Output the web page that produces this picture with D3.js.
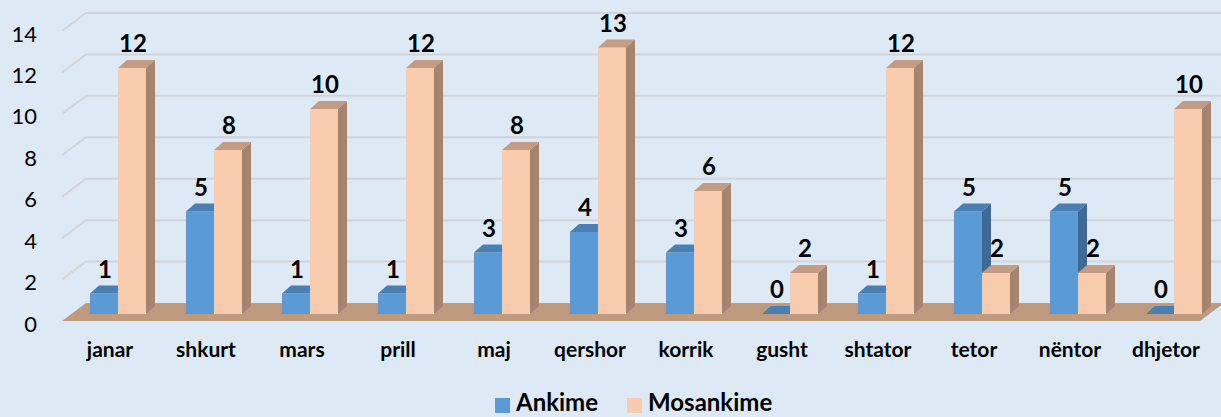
<!DOCTYPE html>
<html>
<head>
<meta charset="utf-8">
<script src="https://cdn.jsdelivr.net/npm/d3@7"></script>
<style>
  html, body { margin: 0; padding: 0; background: #dde9f5; }
  svg { display: block; }
</style>
</head>
<body>
<script>
// Daten
const months = ["janar", "shkurt", "mars", "prill", "maj", "qershor", "korrik", "gusht", "shtator", "tetor", "nëntor", "dhjetor"];
const ankime = [1, 5, 1, 1, 3, 4, 3, 0, 1, 5, 5, 0];
const mosankime = [12, 8, 10, 12, 8, 13, 6, 2, 12, 2, 2, 10];
const seriesNames = ["Ankime", "Mosankime"];
const yTicks = [0, 2, 4, 6, 8, 10, 12, 14];

const width = 1221;
const height = 417;
const font = "Lato, 'Open Sans', sans-serif";

// Tiefe der 3D-Ansicht
const wallDx = 24, wallDy = -18;   // Boden / Rückwand
const barDx = 9, barDy = -8;       // Säulen

const svg = d3.select("body").append("svg")
    .attr("width", width)
    .attr("height", height)
    .attr("viewBox", [0, 0, width, height]);

svg.append("rect").attr("width", width).attr("height", height).attr("fill", "#dde9f5");

// Skalen
const x = d3.scaleBand().domain(months).range([62, 1214]);
const yWall = d3.scaleLinear().domain([0, 14]).range([303, 13]);   // Rückwand
const yBar = d3.scaleLinear().domain([0, 14]).range([314, 27]);    // Säulen

// Gitterlinien (Rückwand + Schräge links)
const grid = svg.append("g")
    .attr("stroke", "#d2d4d7")
    .attr("stroke-width", 2)
    .attr("fill", "none");

grid.selectAll("path")
    .data(yTicks.filter(d => d > 0))
    .join("path")
    .attr("d", d => `M${x.range()[0]},${yWall(d) - wallDy} L${x.range()[0] + wallDx},${yWall(d)} L${width},${yWall(d)}`);

// Y-Achsenbeschriftung
svg.append("g")
    .selectAll("text")
    .data(yTicks)
    .join("text")
    .attr("x", 37)
    .attr("y", d => yWall(d) - wallDy + 2)
    .attr("text-anchor", "end")
    .attr("dominant-baseline", "central")
    .attr("font-family", font)
    .attr("font-size", 22)
    .attr("fill", "#000")
    .text(d => d);

// Boden
const fl = x.range()[0], fr = 1200, fy = yWall(0) - wallDy;
svg.append("path")
    .attr("d", `M${fl},${fy} L${fr},${fy} L${fr + wallDx},${yWall(0)} L${fl + wallDx},${yWall(0)} Z`)
    .attr("fill", "#c09a7f");

// Säulen
const rows = months.map((m, i) => ({ month: m, values: [ankime[i], mosankime[i]] }));
const styles = [
  { front: "#5b9bd5", top: "#4a7fb3", side: "#3e6a95" },
  { front: "#f8cbad", top: "#c29c83", side: "#a7846e" }
];
const barW = 28, barOffset = 28;

function drawBar(g, x0, v, s) {
  const x1 = x0 + barW;
  const yt = yBar(v), yb = yBar(0);
  // Seitenfläche
  g.append("path")
      .attr("d", `M${x1},${yb} L${x1 + barDx},${yb + barDy} L${x1 + barDx},${yt + barDy} L${x1},${yt} Z`)
      .attr("fill", s.side);
  // Vorderseite
  g.append("rect")
      .attr("x", x0).attr("y", yt)
      .attr("width", barW).attr("height", yb - yt)
      .attr("fill", s.front);
  // Oberseite
  g.append("path")
      .attr("d", `M${x0},${yt} L${x1},${yt} L${x1 + barDx},${yt + barDy} L${x0 + barDx},${yt + barDy} Z`)
      .attr("fill", s.top);
}

const bars = svg.append("g");
rows.forEach(r => {
  r.values.forEach((v, k) => {
    drawBar(bars, x(r.month) + barOffset + k * barW, v, styles[k]);
  });
});

// Datenbeschriftungen
const labels = svg.append("g")
    .attr("font-family", font)
    .attr("font-weight", "bold")
    .attr("font-size", 24)
    .attr("text-anchor", "middle")
    .attr("fill", "#000");

rows.forEach(r => {
  r.values.forEach((v, k) => {
    labels.append("text")
        .attr("x", x(r.month) + barOffset + k * barW + barW / 2 + 1)
        .attr("y", yBar(v) - 16)
        .text(v);
  });
});

// Kategorien
svg.append("g")
    .selectAll("text")
    .data(months)
    .join("text")
    .attr("x", d => x(d) + 48)
    .attr("y", 357)
    .attr("text-anchor", "middle")
    .attr("font-family", font)
    .attr("font-weight", "bold")
    .attr("font-size", 21)
    .attr("fill", "#000")
    .text(d => d);

// Legende
const legendX = [495, 627];
const legend = svg.append("g");
seriesNames.forEach((name, k) => {
  legend.append("rect")
      .attr("x", legendX[k]).attr("y", 398)
      .attr("width", 15).attr("height", 15)
      .attr("fill", styles[k].front);
  legend.append("text")
      .attr("x", legendX[k] + 21)
      .attr("y", 411)
      .attr("font-family", font)
      .attr("font-weight", "bold")
      .attr("font-size", 24)
      .attr("fill", "#000")
      .text(name);
});
</script>
</body>
</html>
